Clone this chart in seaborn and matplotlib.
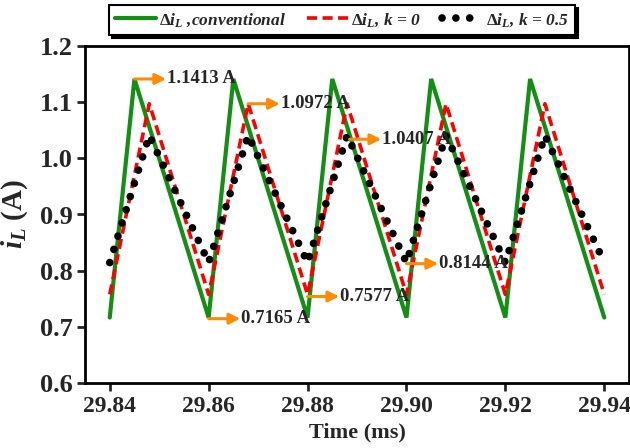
import matplotlib
matplotlib.use("Agg")
import matplotlib.pyplot as plt
import seaborn as sns

# Inductor current waveforms (time in ms, current in A)
t_conv = [29.840, 29.845, 29.860, 29.865, 29.880, 29.885, 29.900, 29.905, 29.920, 29.925, 29.940]
i_conv = [0.7165, 1.1413, 0.7165, 1.1413, 0.7165, 1.1413, 0.7165, 1.1413, 0.7165, 1.1413, 0.7165]

t_k0 = [29.840, 29.848, 29.860, 29.868, 29.880, 29.888, 29.900, 29.908, 29.920, 29.928, 29.940]
i_k0 = [0.7577, 1.0972, 0.7577, 1.0972, 0.7577, 1.0972, 0.7577, 1.0972, 0.7577, 1.0972, 0.7577]

t_k05 = [29.840, 29.848, 29.860, 29.868, 29.880, 29.888, 29.900, 29.908, 29.920, 29.928, 29.940]
i_k05 = [0.8144, 1.0407, 0.8144, 1.0407, 0.8144, 1.0407, 0.8144, 1.0407, 0.8144, 1.0407, 0.8144]

series_labels = [r"$\Delta i_L$ ,conventional", r"$\Delta i_L$, k = 0", r"$\Delta i_L$, k = 0.5"]

# Callouts: (start time, start current, text)
callout_t = [29.845, 29.868, 29.8885, 29.860, 29.880, 29.900]
callout_i = [1.1413, 1.0972, 1.034, 0.7145, 0.7540, 0.8125]
callout_txt = ["1.1413 A", "1.0972 A", "1.0407 A", "0.7165 A", "0.7577 A", "0.8144 A"]

x_ticks = [29.84, 29.86, 29.88, 29.90, 29.92, 29.94]
y_ticks = [0.6, 0.7, 0.8, 0.9, 1.0, 1.1, 1.2]

sns.set_theme(style="ticks")
plt.rcParams["font.family"] = ["Liberation Serif", "DejaVu Serif"]
plt.rcParams["font.weight"] = "bold"
plt.rcParams["mathtext.fontset"] = "custom"
plt.rcParams["mathtext.rm"] = "Liberation Serif:bold"
plt.rcParams["mathtext.bf"] = "Liberation Serif:bold"
plt.rcParams["mathtext.it"] = "Liberation Serif:italic:bold"

fig = plt.figure(figsize=(6.3, 4.48), dpi=100)
ax = fig.add_axes([85 / 630, 65 / 448, 544 / 630, 337 / 448])

green = "#138f13"
orange = "#ff8c00"

sns.lineplot(x=t_conv, y=i_conv, ax=ax, color=green, linewidth=3.0, label=series_labels[0])
sns.lineplot(x=t_k0, y=i_k0, ax=ax, color="#ff0000", linewidth=2.6, label=series_labels[1])
sns.lineplot(x=t_k05, y=i_k05, ax=ax, color="black", linewidth=5.5, label=series_labels[2])

l_conv, l_k0, l_k05 = ax.lines[:3]
l_conv.set_solid_joinstyle("miter")
l_k0.set_linestyle((0, (2.8, 1.5)))
l_k0.set_dash_capstyle("butt")
l_k05.set_linestyle((0, (0.01, 1.8)))
l_k05.set_dash_capstyle("round")
l_k05.set_zorder(3)

ax.get_legend().remove()

# Orange arrows pointing to value labels
arrow_len = 0.0064
for t0, i0, txt in zip(callout_t, callout_i, callout_txt):
    ax.annotate("", xy=(t0 + arrow_len, i0), xytext=(t0, i0),
                arrowprops=dict(arrowstyle="-|>", color=orange, lw=2.2,
                                mutation_scale=16, shrinkA=0, shrinkB=0),
                zorder=5)
    ax.text(t0 + arrow_len + 0.0002, i0, txt, fontsize=13.5, fontweight="bold",
            va="center", ha="left", zorder=6)

ax.set_xlim(29.835, 29.945)
ax.set_ylim(0.6, 1.2)
ax.set_xticks(x_ticks)
ax.set_xticklabels([f"{v:.2f}" for v in x_ticks])
ax.set_yticks(y_ticks)
ax.set_yticklabels([f"{v:.1f}" for v in y_ticks])
ax.tick_params(axis="both", direction="out", length=6, width=2, pad=3)
ax.tick_params(axis="x", labelsize=17)
ax.tick_params(axis="y", labelsize=19)
for lab in ax.get_xticklabels() + ax.get_yticklabels():
    lab.set_fontweight("bold")
for sp in ax.spines.values():
    sp.set_visible(True)
    sp.set_linewidth(2)
    sp.set_color("black")

ax.set_xlabel("Time (ms)", fontsize=16, fontweight="bold", labelpad=4)
ax.set_ylabel(r"$i_L$ (A)", fontsize=21, fontweight="bold", labelpad=7)

leg = fig.legend([l_conv, l_k0, l_k05], series_labels, ncol=3, loc="center",
                 bbox_to_anchor=(342 / 630, 1 - 20 / 448),
                 prop=dict(family="Liberation Serif", weight="bold", style="italic", size=12.5),
                 frameon=True, fancybox=False, edgecolor="black",
                 shadow=dict(color="black", alpha=1, ox=2, oy=-2),
                 handlelength=2.35, columnspacing=1.2, handletextpad=0.2,
                 borderpad=0.35)
leg.get_frame().set_linewidth(1.5)

fig.savefig("out.png", dpi=100)
